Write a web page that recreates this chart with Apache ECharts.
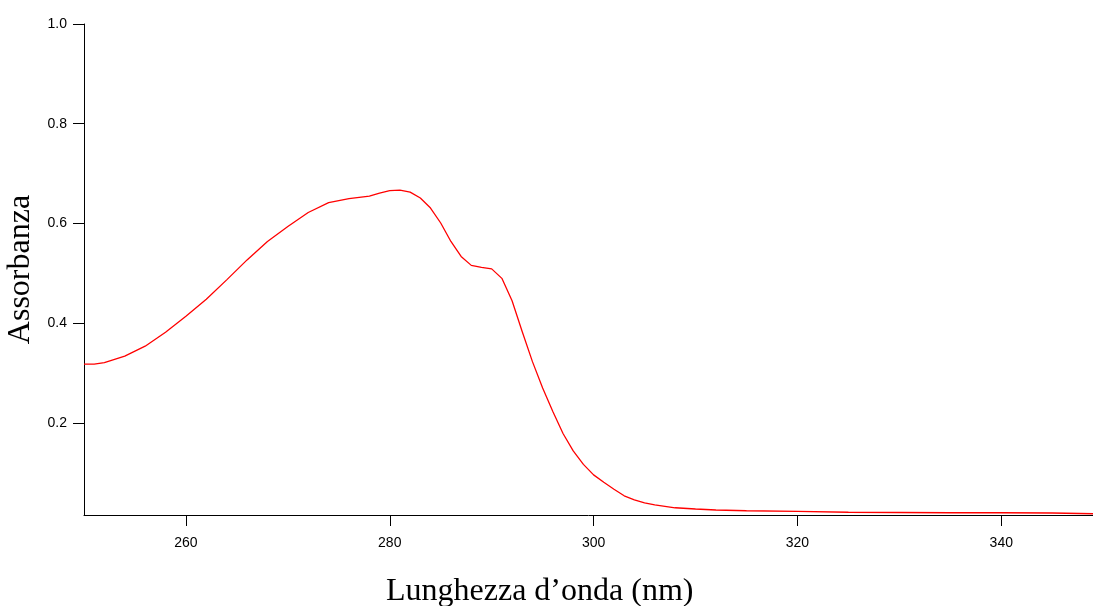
<!DOCTYPE html>
<html>
<head>
<meta charset="utf-8">
<script src="https://cdn.jsdelivr.net/npm/echarts@6/dist/echarts.min.js"></script>
<style>
html,body{margin:0;padding:0;background:#fff;}
#chart{width:1093px;height:606px;}
</style>
</head>
<body>
<div id="chart"></div>
<script>
const wavelengths = [250,251,252,254,256,258,260,262,264,266,268,270,272,274,276,278,279,280,281,282,283,284,285,286,287,288,289,290,291,292,293,294,295,296,297,298,299,300,301,302,303,304,305,306,308,310,312,315,320,325,330,335,340,345,349];
const absorbance = [0.318,0.318,0.321,0.334,0.354,0.382,0.414,0.448,0.487,0.527,0.564,0.594,0.622,0.642,0.650,0.655,0.661,0.666,0.667,0.663,0.651,0.631,0.601,0.564,0.534,0.516,0.512,0.509,0.490,0.445,0.383,0.323,0.270,0.223,0.179,0.144,0.117,0.096,0.081,0.067,0.054,0.046,0.040,0.036,0.030,0.0275,0.0255,0.024,0.0228,0.021,0.0205,0.020,0.020,0.0195,0.018];
const xTicks = [260,280,300,320,340];
const yTicks = [0.2,0.4,0.6,0.8,1.0];
const xTitle = 'Lunghezza d’onda (nm)';
const yTitle = 'Assorbanza';

const chart = echarts.init(document.getElementById('chart'), null, {renderer:'canvas'});
const seriesData = wavelengths.map((w,i)=>[w, absorbance[i]]);
chart.setOption({
  animation:false,
  grid:{left:84, top:24, right:0, bottom:91, containLabel:false, outerBoundsMode:'none'},
  xAxis:{
    type:'value', min:250, max:349,
    axisLine:{show:true, onZero:false, lineStyle:{color:'#000', width:1}},
    axisTick:{show:true, length:11, lineStyle:{color:'#000'}, customValues:xTicks},
    axisLabel:{show:true, color:'#000', fontFamily:'Liberation Sans, Arial, sans-serif', fontSize:14, margin:21, customValues:xTicks},
    splitLine:{show:false}
  },
  yAxis:{
    type:'value', min:0.0155, max:1.0,
    name:yTitle, nameLocation:'middle', nameGap:46, nameRotate:90,
    nameTextStyle:{color:'#000', fontFamily:'Liberation Serif, Times New Roman, serif', fontSize:32},
    axisLine:{show:true, onZero:false, lineStyle:{color:'#000', width:1}},
    axisTick:{show:true, length:11, lineStyle:{color:'#000'}, customValues:yTicks},
    axisLabel:{show:true, color:'#000', fontFamily:'Liberation Sans, Arial, sans-serif', fontSize:14, margin:17, customValues:yTicks,
      formatter:v=>v.toFixed(1)},
    splitLine:{show:false}
  },
  graphic:[{
    type:'text', left:386, top:576,
    style:{text:xTitle, fill:'#000', font:'32px "Liberation Serif", "Times New Roman", serif'}
  }],
  series:[{
    type:'line', data:seriesData, showSymbol:false, smooth:false,
    lineStyle:{color:'#ff0000', width:1.3}, clip:true
  }]
});
</script>
</body>
</html>
